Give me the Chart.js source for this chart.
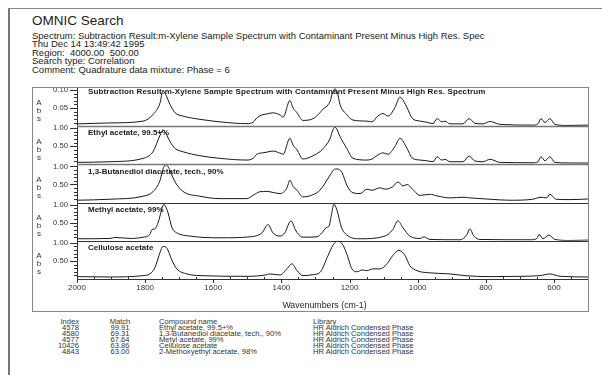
<!DOCTYPE html>
<html>
<head>
<meta charset="utf-8">
<title>OMNIC Search</title>
<script src="https://cdn.jsdelivr.net/npm/chart.js@4.4.1/dist/chart.umd.min.js"></script>
<style>
  body { margin: 0; background: #fff; font-family: "Liberation Sans", Arial, sans-serif; color: #222; }
  #page { position: absolute; left: 8px; top: 8px; width: 700px; height: 400px; border-left: 2px solid #777; border-top: 1px solid #888; }
  #title { position: absolute; left: 32px; top: 12px; font-size: 13.5px; line-height: 18px; white-space: nowrap; }
  #meta { position: absolute; left: 32px; top: 31.5px; font-size: 9.5px; line-height: 8.65px; white-space: nowrap; }
  #box { position: absolute; left: 32px; top: 87px; width: 555px; height: 223px; border: 1px solid #888; }
  .col { position: absolute; top: 319px; font-size: 7.6px; line-height: 5.9px; color: #333; white-space: nowrap; }
</style>
</head>
<body>
<div id="page"></div>
<div id="title">OMNIC Search</div>
<div id="meta">
  Spectrum: Subtraction Result:m-Xylene Sample Spectrum with Contaminant Present Minus High Res. Spec<br>
  Thu Dec 14 13:49:42 1995<br>
  Region:&nbsp; 4000.00&nbsp; 500.00<br>
  Search type: Correlation<br>
  Comment: Quadrature data mixture: Phase = 6
</div>
<div id="box"><canvas id="spectra"></canvas></div>
<div class="col" id="col-index" style="left:0; width:79px; text-align:right;"></div>
<div class="col" id="col-match" style="left:100px; width:40px; text-align:center;"></div>
<div class="col" id="col-name" style="left:159px;"></div>
<div class="col" id="col-lib" style="left:313px;"></div>

<script>
// spectra (wavenumber cm-1 / absorbance)
const subtractionWn = [2000, 1903, 1806, 1777, 1756, 1748, 1740, 1727, 1712, 1689, 1639, 1580, 1501, 1483, 1472, 1454, 1442, 1425, 1404, 1395, 1375, 1366, 1354, 1337, 1307, 1287, 1281, 1257, 1250, 1243, 1236, 1228, 1208, 1190, 1149, 1134, 1117, 1102, 1087, 1067, 1052, 1031, 1017, 993, 973, 955, 943, 929, 920, 905, 867, 849, 832, 808, 788, 758, 662, 647, 638, 626, 612, 597, 562, 500];
const subtractionAbs = [0.0065, 0.009, 0.014, 0.032, 0.065, 0.098, 0.088, 0.060, 0.037, 0.028, 0.019, 0.012, 0.007, 0.011, 0.023, 0.032, 0.034, 0.037, 0.031, 0.025, 0.071, 0.051, 0.037, 0.016, 0.021, 0.037, 0.044, 0.069, 0.092, 0.103, 0.094, 0.060, 0.032, 0.017, 0.014, 0.012, 0.028, 0.035, 0.028, 0.051, 0.080, 0.051, 0.023, 0.014, 0.011, 0.007, 0.021, 0.012, 0.014, 0.0065, 0.0065, 0.021, 0.008, 0.0065, 0.013, 0.005, 0.003, 0.0065, 0.021, 0.010, 0.021, 0.005, 0.002, 0.003];

const ethylWn = [2000, 1903, 1806, 1777, 1756, 1748, 1740, 1727, 1712, 1689, 1639, 1580, 1501, 1483, 1472, 1454, 1442, 1425, 1404, 1395, 1375, 1366, 1354, 1337, 1307, 1287, 1281, 1257, 1250, 1243, 1236, 1228, 1208, 1190, 1149, 1134, 1117, 1102, 1087, 1067, 1052, 1031, 1017, 993, 973, 955, 943, 929, 920, 905, 867, 849, 832, 808, 788, 758, 662, 647, 638, 626, 612, 597, 562, 500];
const ethylAbs = [0.056, 0.074, 0.167, 0.35, 0.81, 0.95, 0.87, 0.63, 0.44, 0.35, 0.24, 0.167, 0.12, 0.167, 0.28, 0.32, 0.34, 0.37, 0.31, 0.28, 0.72, 0.54, 0.40, 0.148, 0.24, 0.35, 0.40, 0.72, 0.92, 1.03, 0.95, 0.77, 0.44, 0.167, 0.12, 0.148, 0.26, 0.32, 0.28, 0.49, 0.72, 0.44, 0.185, 0.12, 0.10, 0.074, 0.21, 0.12, 0.14, 0.074, 0.074, 0.23, 0.093, 0.074, 0.14, 0.056, 0.046, 0.07, 0.21, 0.10, 0.21, 0.056, 0.04, 0.037];

const butanediolWn = [2000, 1903, 1806, 1777, 1756, 1748, 1740, 1733, 1727, 1712, 1689, 1639, 1580, 1501, 1483, 1463, 1442, 1425, 1404, 1384, 1375, 1366, 1354, 1337, 1307, 1287, 1257, 1247, 1237, 1222, 1208, 1190, 1169, 1149, 1134, 1111, 1096, 1073, 1058, 1043, 1031, 1017, 993, 964, 943, 905, 867, 847, 788, 729, 662, 638, 621, 612, 594, 553, 500];
const butanediolAbs = [0.065, 0.093, 0.176, 0.30, 0.62, 0.92, 1.04, 1.0, 0.88, 0.57, 0.31, 0.176, 0.11, 0.11, 0.20, 0.30, 0.31, 0.28, 0.25, 0.40, 0.62, 0.45, 0.34, 0.157, 0.22, 0.34, 0.76, 0.90, 0.93, 0.83, 0.48, 0.27, 0.25, 0.37, 0.34, 0.41, 0.37, 0.44, 0.57, 0.46, 0.50, 0.39, 0.20, 0.23, 0.185, 0.13, 0.148, 0.13, 0.093, 0.065, 0.093, 0.148, 0.13, 0.23, 0.093, 0.083, 0.10];

const methylWn = [2000, 1903, 1888, 1844, 1806, 1786, 1780, 1771, 1762, 1751, 1745, 1739, 1733, 1721, 1707, 1668, 1580, 1492, 1457, 1439, 1425, 1404, 1390, 1372, 1357, 1337, 1296, 1281, 1269, 1260, 1252, 1246, 1237, 1224, 1208, 1169, 1096, 1073, 1058, 1043, 1023, 993, 982, 964, 876, 855, 847, 835, 817, 670, 650, 644, 632, 615, 597, 553, 500];
const methylAbs = [0.056, 0.065, 0.093, 0.065, 0.10, 0.176, 0.31, 0.33, 0.50, 0.87, 1.01, 0.93, 0.78, 0.36, 0.22, 0.13, 0.083, 0.11, 0.22, 0.45, 0.22, 0.13, 0.22, 0.55, 0.27, 0.10, 0.11, 0.22, 0.36, 0.41, 0.78, 1.01, 0.85, 0.38, 0.16, 0.056, 0.13, 0.31, 0.55, 0.36, 0.13, 0.065, 0.11, 0.037, 0.028, 0.176, 0.33, 0.13, 0.037, 0.028, 0.065, 0.176, 0.056, 0.157, 0.037, 0.009, 0.019];

const celluloseWn = [2000, 1903, 1806, 1786, 1771, 1756, 1748, 1736, 1721, 1707, 1677, 1639, 1492, 1448, 1434, 1404, 1384, 1369, 1354, 1337, 1307, 1287, 1263, 1249, 1234, 1219, 1208, 1193, 1178, 1163, 1149, 1131, 1111, 1090, 1073, 1055, 1037, 1023, 1002, 964, 905, 861, 788, 700, 641, 612, 582, 500];
const celluloseAbs = [0.065, 0.056, 0.093, 0.14, 0.32, 0.74, 0.90, 0.85, 0.51, 0.28, 0.14, 0.093, 0.074, 0.11, 0.14, 0.11, 0.28, 0.42, 0.23, 0.093, 0.12, 0.18, 0.65, 0.93, 1.05, 0.93, 0.69, 0.28, 0.20, 0.25, 0.23, 0.28, 0.28, 0.42, 0.65, 0.79, 0.65, 0.37, 0.23, 0.17, 0.14, 0.093, 0.065, 0.074, 0.093, 0.14, 0.074, 0.056];

const panelLabels = [
    'Subtraction Result:m-Xylene Sample Spectrum with Contaminant Present Minus High Res. Spectrum',
    'Ethyl acetate, 99.5+%',
    '1,3-Butanediol diacetate, tech., 90%',
    'Methyl acetate, 99%',
    'Cellulose acetate'
];
const panelMax = [0.1055, 1.055, 1.055, 1.055, 1.055];
const panelStep = [0.01, 0.1, 0.1, 0.1, 0.1];

// search result list
const resultIndex = ['4578', '4580', '4577', '10426', '4843'];
const resultMatch = ['99.91', '69.31', '67.64', '63.86', '63.00'];
const resultName = ['Ethyl acetate, 99.5+%', '1,3-Butanediol diacetate, tech., 90%', 'Metyl acetate, 99%', 'Cellulose acetate', '2-Methoxyethyl acetate, 98%'];
const resultLibrary = ['HR Aldrich Condensed Phase', 'HR Aldrich Condensed Phase', 'HR Aldrich Condensed Phase', 'HR Aldrich Condensed Phase', 'HR Aldrich Condensed Phase'];

function fillColumn(id, head, rows) {
    document.getElementById(id).innerHTML = [head].concat(rows).join('<br>');
}
fillColumn('col-index', 'Index', resultIndex);
fillColumn('col-match', 'Match', resultMatch);
fillColumn('col-name', 'Compound name', resultName);
fillColumn('col-lib', 'Library', resultLibrary);

const FONT = '"Liberation Sans", Arial, sans-serif';
Chart.defaults.font.family = FONT;
Chart.defaults.color = '#333';

const spectra = [
    [subtractionWn, subtractionAbs],
    [ethylWn, ethylAbs],
    [butanediolWn, butanediolAbs],
    [methylWn, methylAbs],
    [celluloseWn, celluloseAbs]
];
const yIds = ['y1', 'y2', 'y3', 'y4', 'y5'];

function isLabelled(value, step) {
    const n = Math.round(value / step);
    return n > 0 && n % 5 === 0;
}

const scales = {
    x: {
        type: 'linear',
        reverse: true,
        min: 500,
        max: 2000,
        grid: { drawOnChartArea: false, drawTicks: false },
        border: { color: '#333', width: 1 },
        ticks: {
            stepSize: 50,
            autoSkip: false,
            maxRotation: 0,
            padding: 4,
            font: { size: 8 },
            callback: v => (v % 200 === 0 ? String(v) : '')
        },
        afterFit: s => {
            s.height = 32;
            s.paddingLeft = 0;
            s.paddingRight = 0;
        }
    }
};

yIds.forEach((id, i) => {
    scales[id] = {
        type: 'linear',
        position: 'left',
        stack: 'panels',
        stackWeight: 1,
        weight: 10 - i,
        offset: false,
        min: 0,
        max: panelMax[i],
        grid: { drawOnChartArea: false, drawTicks: false },
        border: { color: '#333', width: 1 },
        ticks: {
            stepSize: panelStep[i],
            includeBounds: false,
            autoSkip: false,
            padding: 9,
            font: { size: 7.7 },
            callback: v => (isLabelled(v, panelStep[i]) ? v.toFixed(2) : '')
        },
        afterFit: s => {
            s.width = 44;
            s.paddingTop = 0;
            s.paddingBottom = 0;
        }
    };
});

const spectrumDecor = {
    id: 'spectrumDecor',
    beforeDatasetsDraw(chart) {
        const ctx = chart.ctx;
        const area = chart.chartArea;
        ctx.save();
        ctx.fillStyle = '#1a1a1a';
        ctx.font = 'bold 8px ' + FONT;
        ctx.textBaseline = 'middle';
        yIds.forEach((id, i) => {
            const s = chart.scales[id];
            ctx.letterSpacing = i === 0 ? '0.15px' : '0px';
            ctx.fillText(panelLabels[i], area.left + 11, s.top + (i === 0 ? 4 : 7));
        });
        ctx.restore();
    },
    afterDraw(chart) {
        const ctx = chart.ctx;
        const area = chart.chartArea;
        ctx.save();

        // panel separators
        yIds.forEach((id, i) => {
            if (i === 0) return;
            const y = Math.round(chart.scales[id].top) + 0.5;
            ctx.strokeStyle = i <= 2 ? '#777' : '#333';
            ctx.lineWidth = i <= 2 ? 1.6 : 1;
            ctx.beginPath();
            ctx.moveTo(area.left, y);
            ctx.lineTo(area.right, y);
            ctx.stroke();
        });

        // tick marks
        ctx.strokeStyle = '#333';
        ctx.lineWidth = 1;
        yIds.forEach((id, i) => {
            const s = chart.scales[id];
            s.ticks.forEach(t => {
                if (t.value <= 0) return;
                const y = Math.round(s.getPixelForValue(t.value)) + 0.5;
                const len = isLabelled(t.value, panelStep[i]) ? 7 : 3;
                ctx.beginPath();
                ctx.moveTo(s.right - len, y);
                ctx.lineTo(s.right, y);
                ctx.stroke();
            });
        });
        const xs = chart.scales.x;
        xs.ticks.forEach(t => {
            const x = Math.round(xs.getPixelForValue(t.value)) + 0.5;
            ctx.beginPath();
            if (t.value % 200 === 0) {
                ctx.moveTo(x, area.bottom);
                ctx.lineTo(x, area.bottom + 4);
            } else {
                ctx.moveTo(x, area.bottom);
                ctx.lineTo(x, area.bottom - 2);
            }
            ctx.stroke();
        });

        // "Abs" stacked letters for every panel
        ctx.fillStyle = '#333';
        ctx.font = '8px ' + FONT;
        ctx.textAlign = 'center';
        ctx.textBaseline = 'middle';
        yIds.forEach(id => {
            const s = chart.scales[id];
            const mid = (s.top + s.bottom) / 2;
            ['A', 'b', 's'].forEach((ch, k) => ctx.fillText(ch, 6, mid - 4 + k * 8));
        });

        // x axis title
        ctx.font = '8.8px ' + FONT;
        ctx.fillStyle = '#222';
        ctx.fillText('Wavenumbers (cm-1)', (area.left + area.right) / 2 - 8, area.bottom + 27);
        ctx.restore();
    }
};

new Chart(document.getElementById('spectra'), {
    type: 'line',
    data: {
        datasets: spectra.map(([wn, abs], i) => ({
            label: panelLabels[i],
            data: wn.map((w, k) => ({ x: w, y: abs[k] })),
            yAxisID: yIds[i],
            borderColor: '#1a1a1a',
            borderWidth: 1,
            pointRadius: 0,
            cubicInterpolationMode: 'monotone',
            fill: false
        }))
    },
    options: {
        responsive: true,
        maintainAspectRatio: false,
        animation: false,
        layout: { padding: 0 },
        plugins: {
            legend: { display: false },
            tooltip: { enabled: false }
        },
        scales
    },
    plugins: [spectrumDecor]
});
</script>
</body>
</html>
